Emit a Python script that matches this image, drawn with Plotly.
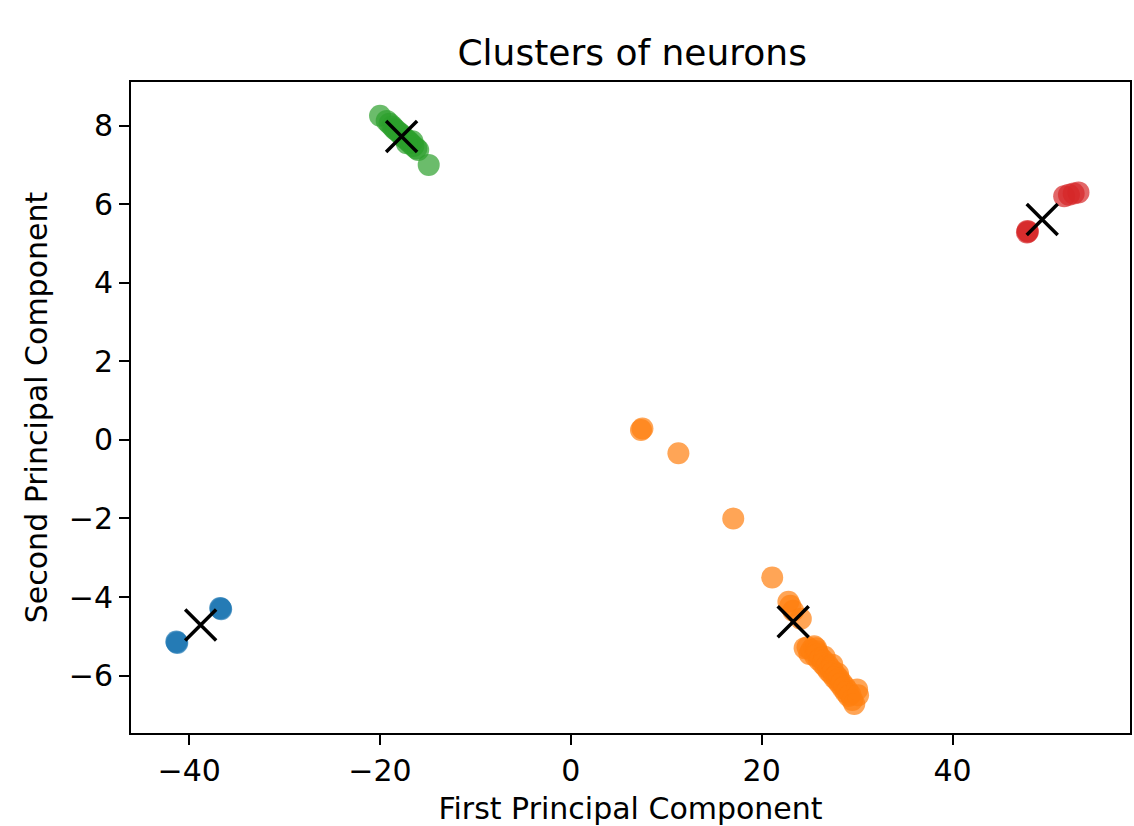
import plotly.graph_objects as go

# ---- data ----
blue_x = [-41.3, -41.25, -41.35, -36.7, -36.65, -36.75]
blue_y = [-5.15, -5.17, -5.13, -4.29, -4.31, -4.28]

orange_x = [7.35, 7.5, 11.27, 17.02, 21.1, 22.8, 23.0, 23.3, 24.1,
            24.5, 24.8, 25.0, 25.2, 25.5, 25.6, 25.7, 25.8, 25.9, 26.0, 26.2,
            26.4, 26.5, 26.6, 26.7, 26.9, 27.0, 27.2, 27.3, 27.4, 27.5,
            27.6, 27.8, 27.9, 28.0, 28.1, 28.2, 28.4, 28.5, 28.7, 28.8,
            29.0, 29.1, 29.3, 29.5, 29.7, 30.0, 30.1]
orange_y = [0.25, 0.29, -0.34, -2.0, -3.5, -4.12, -4.22, -4.35, -4.55,
            -5.3, -5.28, -5.45, -5.35, -5.25, -5.5, -5.3, -5.38, -5.45, -5.6, -5.55,
            -5.7, -5.62, -5.52, -5.78, -5.72, -5.88, -5.82, -5.95, -5.72, -5.9,
            -6.05, -6.0, -6.12, -5.95, -6.08, -6.22, -6.18, -6.32, -6.28, -6.42,
            -6.38, -6.52, -6.48, -6.62, -6.72, -6.35, -6.5]

green_x = [-20.0, -19.3, -19.0, -18.7, -18.5, -18.3, -18.0, -17.8, -17.6,
           -17.3, -17.0, -16.8, -16.5, -16.2, -16.0, -17.2, -16.6, -14.9]
green_y = [8.25, 8.12, 8.05, 7.98, 7.92, 7.88, 7.82, 7.78, 7.72,
           7.66, 7.6, 7.55, 7.48, 7.42, 7.38, 7.55, 7.6, 7.0]

red_x = [47.8, 47.9, 47.85, 51.7, 52.2, 52.7, 53.2]
red_y = [5.28, 5.3, 5.32, 6.2, 6.24, 6.27, 6.3]

centroid_x = [-38.8, 23.3, -17.74, 49.4]
centroid_y = [-4.71, -4.63, 7.72, 5.61]

colors = ["#1f77b4", "#ff7f0e", "#2ca02c", "#d62728"]
clusters = [(blue_x, blue_y), (orange_x, orange_y), (green_x, green_y), (red_x, red_y)]

FONT = "DejaVu Sans"

fig = go.Figure()
for (cx, cy), col in zip(clusters, colors):
    fig.add_trace(go.Scatter(
        x=cx, y=cy, mode="markers",
        marker=dict(color=col, size=22, opacity=0.7, line=dict(width=0)),
        showlegend=False, hoverinfo="skip"))

fig.add_trace(go.Scatter(
    x=centroid_x, y=centroid_y, mode="markers",
    marker=dict(symbol="x-thin", size=31, color="black",
                line=dict(width=3.5, color="black")),
    showlegend=False, hoverinfo="skip"))

axis_common = dict(
    showline=True, mirror=True, linecolor="black", linewidth=2,
    ticks="outside", ticklen=10, tickwidth=2, tickcolor="black",
    showgrid=False, zeroline=False,
    tickfont=dict(family=FONT, size=30, color="black"),
)

fig.update_layout(
    width=1134, height=826,
    margin=dict(l=131, r=2, t=82, b=93),
    paper_bgcolor="white", plot_bgcolor="white",
    font=dict(family=FONT, color="black"),
    title=dict(text="Clusters of neurons", x=0.5575, xanchor="center",
               y=1 - 52 / 826, yanchor="middle",
               font=dict(family=FONT, size=36, color="black")),
    xaxis=dict(range=[-46.1, 58.6], tickvals=[-40, -20, 0, 20, 40],
               title=dict(text="First Principal Component", standoff=12,
                          font=dict(family=FONT, size=30, color="black")),
               **axis_common),
    yaxis=dict(range=[-7.46, 9.11], tickvals=[-6, -4, -2, 0, 2, 4, 6, 8],
               title=dict(text="Second Principal Component", standoff=12,
                          font=dict(family=FONT, size=30, color="black")),
               **axis_common),
)

fig.write_html("out.html")
